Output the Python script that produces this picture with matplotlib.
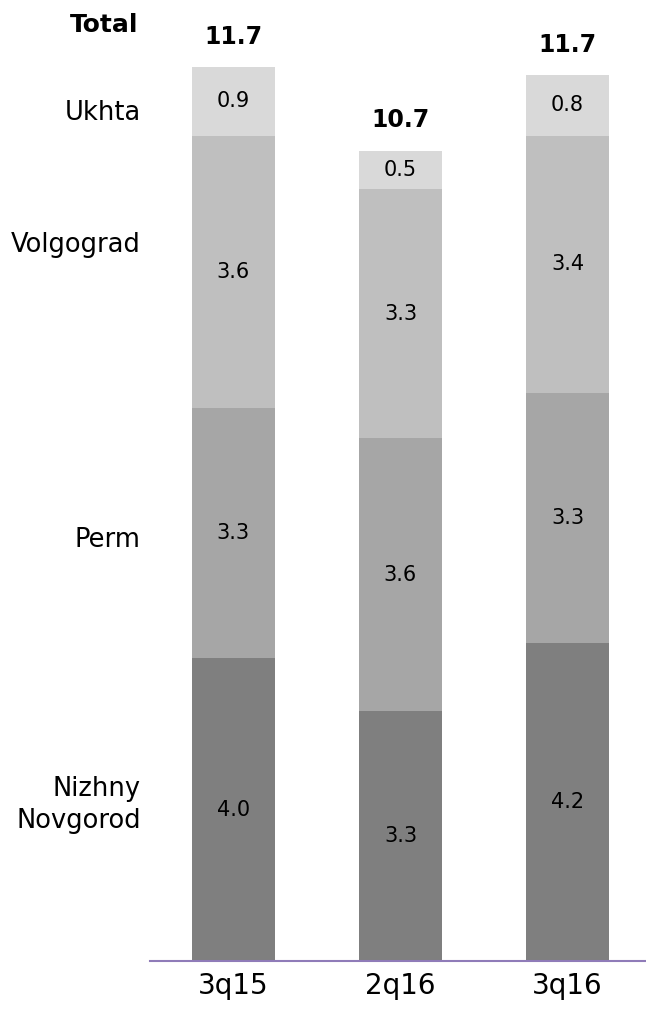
import matplotlib.pyplot as plt
import numpy as np

periods = ['3q15', '2q16', '3q16']
regions = ['Nizhny\nNovgorod', 'Perm', 'Volgograd', 'Ukhta']
nizhny = [4.0, 3.3, 4.2]
perm = [3.3, 3.6, 3.3]
volgograd = [3.6, 3.3, 3.4]
ukhta = [0.9, 0.5, 0.8]
totals = [11.7, 10.7, 11.7]

colors = ['#7f7f7f', '#a6a6a6', '#bfbfbf', '#d9d9d9']
series = [nizhny, perm, volgograd, ukhta]

fig = plt.figure(figsize=(6.46, 10.11), dpi=100)
ax = fig.add_axes([0.232, 0.0495, 0.768, 0.9505])

x = np.arange(len(periods))
bottom = np.zeros(len(periods))
for vals, col in zip(series, colors):
    vals = np.array(vals)
    ax.bar(x, vals, bottom=bottom, width=0.5, color=col, edgecolor='none')
    for xi, b, v in zip(x, bottom, vals):
        ax.text(xi, b + v / 2, f"{v:.1f}", ha='center', va='center', fontsize=15, color='black')
    bottom += vals

# totals above bars
for xi, t, top in zip(x, totals, bottom):
    ax.text(xi, top + 0.4, f"{t:.1f}", ha='center', va='center', fontsize=17, fontweight='bold')

# region names on the left (positions along the first bar)
label_y = [2.06, 5.56, 9.46, 11.2]
for name, ly in zip(regions, label_y):
    ax.text(-0.555, ly, name, ha='right', va='center', fontsize=18.5, linespacing=1.3)
ax.text(-0.57, 12.36, 'Total', ha='right', va='center', fontsize=18, fontweight='bold')

ax.set_xlim(-0.5, 2.47)
ax.set_ylim(0, 12.69)
ax.set_xticks(x)
ax.set_xticklabels(periods, fontsize=20)
ax.tick_params(axis='x', length=0, pad=8)
ax.set_yticks([])
for s in ['top', 'right', 'left']:
    ax.spines[s].set_visible(False)
ax.spines['bottom'].set_color('#8f7bb8')
ax.spines['bottom'].set_linewidth(1.5)

fig.savefig('out.png', dpi=100)
